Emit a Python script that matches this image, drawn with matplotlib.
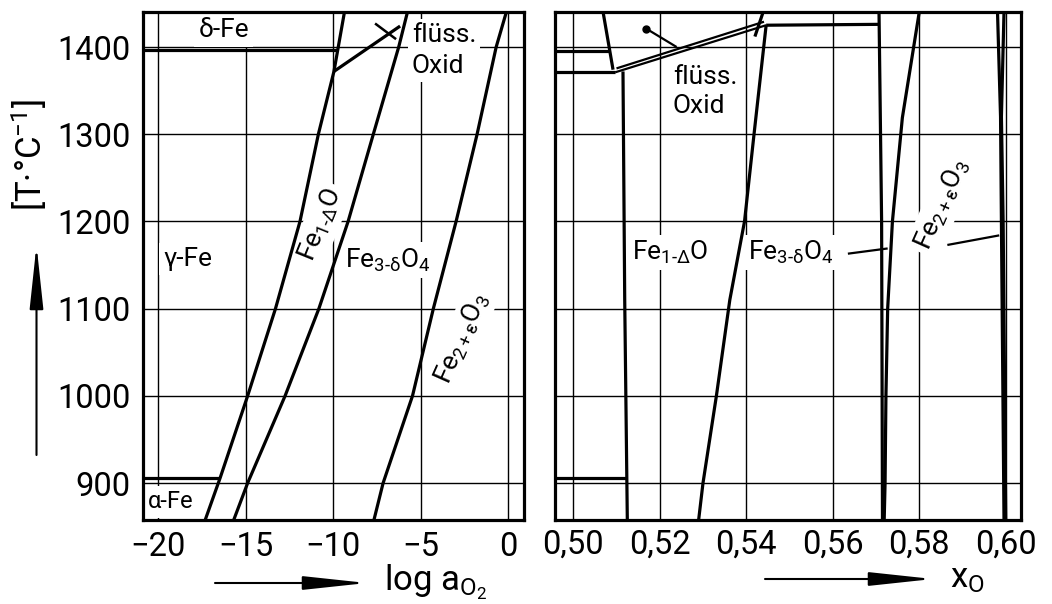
import matplotlib
matplotlib.use("Agg")
import matplotlib.pyplot as plt
from matplotlib import font_manager
from matplotlib.patches import FancyArrowPatch
import numpy as np

# ---- left panel: log a_O2 vs. temperature (deg C)
fe_wus_loga = [-17.3, -16.45, -14.88, -13.29, -11.89, -10.84, -9.95, -9.35]
fe_wus_T = [858, 906, 1000, 1100, 1200, 1300, 1372, 1440]
wus_mag_loga = [-15.67, -14.88, -12.74, -10.81, -9.14, -7.70, -6.25, -5.75]
wus_mag_T = [858, 900, 1000, 1100, 1200, 1300, 1400, 1440]
mag_hem_loga = [-7.66, -7.14, -5.46, -4.27, -2.97, -1.77, -0.68, -0.10]
mag_hem_T = [858, 900, 1000, 1100, 1200, 1300, 1400, 1440]
liq_loga = [-9.95, -6.17]
liq_T = [1372, 1424]
liq_pointer_loga = [-7.6, -6.4]
liq_pointer_T = [1427, 1409]
T_alpha_gamma = 906
T_gamma_delta = 1397

loga_ticks = [-20, -15, -10, -5, 0]
loga_ticklabels = ["−20", "−15", "−10", "−5", "0"]
T_ticks = [900, 1000, 1100, 1200, 1300, 1400]

# ---- right panel: mole fraction x_O vs. temperature
feo_fe_x = [0.5115, 0.5119, 0.5125]
feo_fe_T = [1372, 1110, 858]
feo_o_x = [0.5446, 0.5418, 0.5396, 0.5362, 0.5331, 0.5300, 0.5290]
feo_o_T = [1425, 1300, 1200, 1110, 1000, 900, 858]
liq_fe_x = [0.5069, 0.5092]
liq_fe_T = [1440, 1374]
liq_a_x = [0.5097, 0.5446]
liq_a_T = [1371, 1425]
liq_b_x = [0.5100, 0.5441]
liq_b_T = [1375.5, 1429]
liq_top_x = [0.5420, 0.5439]
liq_top_T = [1412, 1440]
eut_x = [0.5446, 0.5708]
eut_T = [1425, 1426]
mag_fe_x = [0.5707, 0.5713, 0.5715]
mag_fe_T = [1440, 1200, 858]
mag_o_x = [0.5800, 0.5761, 0.5738, 0.5727, 0.5723, 0.5721, 0.5719]
mag_o_T = [1440, 1319, 1200, 1100, 1000, 900, 858]
hem_fe_x = [0.5981, 0.5988, 0.5990, 0.5996]
hem_o_x = [0.5996, 0.5990, 0.5994, 0.6000]
hem_T = [1440, 1320, 1200, 858]
T_monotectic = 1371
ptr_liq_x = [0.5169, 0.5239]
ptr_liq_T = [1421, 1400]
ptr_mag_x = [0.5635, 0.5727]
ptr_mag_T = [1163, 1169]
ptr_hem_x = [0.5865, 0.5985]
ptr_hem_T = [1173, 1184]

xo_ticks = [0.50, 0.52, 0.54, 0.56, 0.58, 0.60]
xo_ticklabels = ["0,50", "0,52", "0,54", "0,56", "0,58", "0,60"]

# ---- fonts
names = {f.name for f in font_manager.fontManager.ttflist}
FONT = next((n for n in ["Liberation Sans Narrow", "DejaVu Sans Condensed", "Roboto"]
             if n in names), "DejaVu Sans")
plt.rcParams["font.family"] = [FONT, "DejaVu Sans"]
plt.rcParams["mathtext.fontset"] = "custom"
plt.rcParams["mathtext.rm"] = FONT
plt.rcParams["mathtext.it"] = FONT
plt.rcParams["mathtext.bf"] = FONT

W, H = 1052, 604
fig = plt.figure(figsize=(W / 100, H / 100), dpi=100)

def px_axes(left, top, right, bottom):
    return fig.add_axes([left / W, 1 - bottom / H, (right - left) / W, (bottom - top) / H])

axl = px_axes(143, 11.7, 524, 520)
axr = px_axes(555, 11.7, 1021, 520)

LW = 2.3
GRID = 1.0
LAB = 19
TICK = 23.5
box = dict(facecolor="white", edgecolor="none", pad=3)

def curve(ax, x, y, lw=LW):
    ax.plot(x, y, color="black", lw=lw, solid_capstyle="butt", zorder=3)

def label(ax, x, y, s, size=LAB, **kw):
    ax.text(x, y, s, fontsize=size, bbox=box, zorder=2, **kw)

for ax in (axl, axr):
    ax.set_ylim(857.6, 1440.5)
    ax.set_yticks(T_ticks)
    ax.set_axisbelow(True)
    ax.grid(True, color="black", lw=GRID)
    ax.tick_params(length=0, labelsize=TICK)
    for sp in ax.spines.values():
        sp.set_linewidth(2.3)

# left panel
axl.set_xlim(-20.86, 0.91)
axl.set_xticks(loga_ticks, loga_ticklabels)
axl.tick_params(axis="x", pad=8)
axl.tick_params(axis="y", pad=9)

curve(axl, fe_wus_loga, fe_wus_T)
curve(axl, wus_mag_loga, wus_mag_T)
curve(axl, mag_hem_loga, mag_hem_T)
curve(axl, liq_loga, liq_T)
curve(axl, liq_pointer_loga, liq_pointer_T, lw=1.8)
x_ag = np.interp(T_alpha_gamma, fe_wus_T, fe_wus_loga)
curve(axl, [-20.86, x_ag], [T_alpha_gamma, T_alpha_gamma])
x_gd = np.interp(T_gamma_delta, fe_wus_T, fe_wus_loga)
curve(axl, [-20.86, x_gd], [T_gamma_delta, T_gamma_delta])

FEO = r"Fe$_{\mathrm{1‐Δ}}$O"
MAG = r"Fe$_{\mathrm{3‐δ}}$O$_{\mathrm{4}}$"
HEM = r"Fe$_{\mathrm{2+ε}}$O$_{\mathrm{3}}$"

label(axl, -17.7, 1411, "δ-Fe")
label(axl, -19.7, 1149, "γ-Fe")
label(axl, -20.57, 871, "α-Fe", size=17)
label(axl, -5.5, 1406, "flüss.")
label(axl, -5.5, 1370, "Oxid")
label(axl, -10.69, 1196, FEO, rotation=68,
      ha="center", va="center", rotation_mode="anchor")
label(axl, -9.29, 1147, MAG)
label(axl, -2.63, 1066, HEM, rotation=66,
      ha="center", va="center", rotation_mode="anchor")

# right panel
axr.set_xlim(0.49578, 0.60353)
axr.set_xticks(xo_ticks, xo_ticklabels)
axr.set_yticklabels([])
axr.tick_params(axis="x", pad=6)

curve(axr, feo_fe_x, feo_fe_T)
curve(axr, feo_o_x, feo_o_T)
curve(axr, liq_fe_x, liq_fe_T)
curve(axr, liq_a_x, liq_a_T, lw=1.6)
curve(axr, liq_b_x, liq_b_T, lw=1.6)
curve(axr, liq_top_x, liq_top_T)
curve(axr, eut_x, eut_T)
curve(axr, mag_fe_x, mag_fe_T)
curve(axr, mag_o_x, mag_o_T)
curve(axr, hem_fe_x, hem_T)
curve(axr, hem_o_x, hem_T)
xr0 = axr.get_xlim()[0]
curve(axr, [xr0, liq_a_x[0]], [T_monotectic, T_monotectic])
x_gd_r = np.interp(T_gamma_delta - 2, liq_fe_T[::-1], liq_fe_x[::-1])
curve(axr, [xr0, x_gd_r], [T_gamma_delta - 2, T_gamma_delta - 2])
x_ag_r = np.interp(T_alpha_gamma, feo_fe_T[::-1], feo_fe_x[::-1])
curve(axr, [xr0, x_ag_r], [T_alpha_gamma, T_alpha_gamma])
curve(axr, ptr_liq_x, ptr_liq_T, lw=1.6)
axr.plot(ptr_liq_x[0], ptr_liq_T[0], "o", color="black", ms=5, zorder=3)
curve(axr, ptr_mag_x, ptr_mag_T, lw=1.6)
curve(axr, ptr_hem_x, ptr_hem_T, lw=1.6)

label(axr, 0.5230, 1358, "flüss.")
label(axr, 0.5230, 1324, "Oxid")
label(axr, 0.51347, 1156, FEO)
label(axr, 0.54031, 1156, MAG)
label(axr, 0.5853, 1219, HEM, rotation=66,
      ha="center", va="center", rotation_mode="anchor")

# axis titles with arrows
arrow = dict(arrowstyle="-|>,head_length=2.8,head_width=0.3", color="black", lw=1.5,
             shrinkA=0, shrinkB=0, mutation_scale=14)

def fpx(x, y):
    return (x / W, 1 - y / H)

for a, b in [((215, 583), (367, 583)), ((765, 579), (933, 579)), ((36.5, 455), (36.5, 245))]:
    fig.add_artist(FancyArrowPatch(fpx(*a), fpx(*b), transform=fig.transFigure, **arrow))

fig.text(*fpx(384, 590), r"log a$_{\mathrm{O_2}}$", fontsize=25, va="baseline")
fig.text(*fpx(950, 587), r"x$_{\mathrm{O}}$", fontsize=25, va="baseline")
fig.text(*fpx(29, 155), r"[T·°C$^{\mathrm{-1}}$]", fontsize=25, rotation=90,
         ha="center", va="center")

fig.savefig("out.png", dpi=100)
